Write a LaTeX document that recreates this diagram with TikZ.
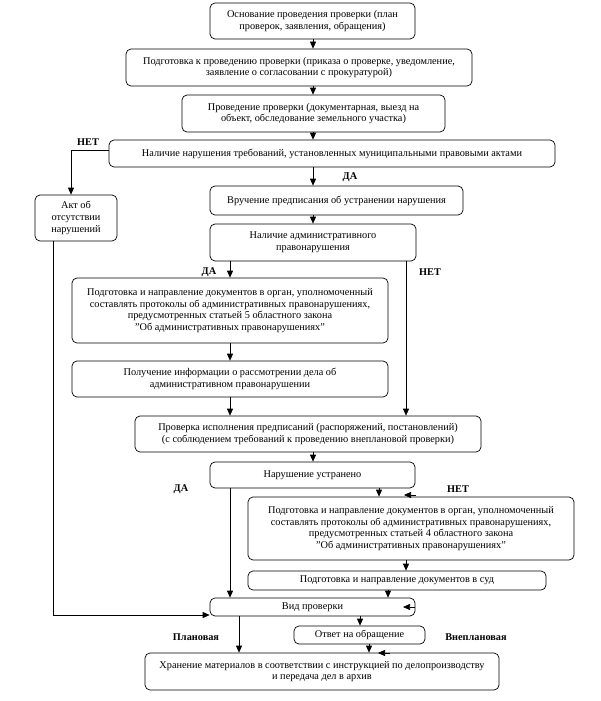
\documentclass[tikz,border=0pt]{standalone}
\usepackage{fontspec}
\setmainfont{Liberation Serif}
\usetikzlibrary{arrows.meta,calc}
\newcommand{\qq}{\char34 }
\begin{document}
\begin{tikzpicture}[x=1pt,y=-1pt,
  box/.style={draw,rounded corners=5pt,align=center,inner sep=0pt,line width=0.7pt,
    font=\fontsize{10.3}{11.7}\selectfont},
  arr/.style={line width=0.7pt,-{Triangle[length=7pt,width=6pt]}},
  lbl/.style={font=\fontsize{10.3}{12}\selectfont\bfseries,inner sep=0pt}]
\useasboundingbox (0,0) rectangle (600,701);
\node[box,minimum width=205pt,minimum height=36pt] (b1) at (312.5,21) {Основание проведения проверки (план\\проверок, заявления, обращения)};
\node[box,minimum width=346pt,minimum height=37pt] (b2) at (299,67.5) {Подготовка к проведению проверки (приказа о проверке, уведомление,\\заявление о согласовании с прокуратурой)};
\node[box,minimum width=263pt,minimum height=37pt] (b3) at (313.5,113.5) {Проведение проверки (документарная, выезд на\\объект, обследование земельного участка)};
\node[box,minimum width=446pt,minimum height=27pt] (b4) at (332,153.5) {Наличие нарушения требований, установленных муниципальными правовыми актами};
\node[box,minimum width=82pt,minimum height=46pt] (akt) at (76,218) {Акт об\\отсутствии\\нарушений};
\node[box,minimum width=253pt,minimum height=29pt] (b5) at (336.5,200.5) {Вручение предписания об устранении нарушения};
\node[box,minimum width=206pt,minimum height=37pt] (b6) at (313,242.5) {Наличие административного\\правонарушения};
\node[box,minimum width=316pt,minimum height=65pt] (b7) at (230,310.5) {Подготовка и направление документов в орган, уполномоченный\\составлять протоколы об административных правонарушениях,\\предусмотренных статьей 5 областного закона\\\qq Об административных правонарушениях\qq};
\node[box,minimum width=316pt,minimum height=36pt] (b8) at (230,379) {Получение информации о рассмотрении дела об\\административном правонарушении};
\node[box,minimum width=346pt,minimum height=36pt] (b9) at (308,434) {Проверка исполнения предписаний (распоряжений, постановлений)\\(с соблюдением требований к проведению внеплановой проверки)};
\node[box,minimum width=205pt,minimum height=26pt] (b10) at (312.5,475) {Нарушение устранено};
\node[box,minimum width=326pt,minimum height=63pt] (b11) at (411,528.5) {Подготовка и направление документов в орган, уполномоченный\\составлять протоколы об административных правонарушениях,\\предусмотренных статьей 4 областного закона\\\qq Об административных правонарушениях\qq};
\node[box,minimum width=298pt,minimum height=19pt] (b12) at (397,580.5) {Подготовка и направление документов в суд};
\node[box,minimum width=205pt,minimum height=18pt] (b13) at (312.5,607) {Вид проверки};
\node[box,minimum width=131pt,minimum height=18pt] (b14) at (359.5,635) {Ответ на обращение};
\node[box,minimum width=354pt,minimum height=37pt] (b15) at (322,671.5) {Хранение материалов в соответствии с инструкцией по делопроизводству\\и передача дел в архив};
% labels
\node[lbl] (l1) at (88,142) {НЕТ};
\node[lbl] (l2) at (350,177) {ДА};
\node[lbl] (l3) at (209,272) {ДА};
\node[lbl] (l4) at (430,272) {НЕТ};
\node[lbl] (l5) at (181,489) {ДА};
\node[lbl] (l6) at (458,489) {НЕТ};
\node[lbl] (l7) at (196,637) {Плановая};
\node[lbl] (l8) at (476,637) {Внеплановая};
% connectors
\draw[arr] (b1.south -| 313,0) -- (b2.north -| 313,0);
\draw[arr] (b2.south -| 313,0) -- (b3.north -| 313,0);
\draw[arr] (b3.south -| 313,0) -- (b4.north -| 313,0);
\draw[arr] (b4.south -| 313,0) -- (b5.north -| 313,0);
\draw[arr] ([yshift=3pt]b4.west) -| ([xshift=-5pt]akt.north);
\draw[arr] (b5.south -| 313,0) -- (b6.north -| 313,0);
\draw[arr] (b6.south -| b7.north) -- (b7.north);
\draw[arr] (b6.south -| 406,0) -- (b9.north -| 406,0);
\draw[arr] (b7.south) -- (b8.north);
\draw[arr] (b8.south) -- (b9.north -| b8.south);
\draw[arr] (b9.south -| 313,0) -- (b10.north -| 313,0);
\draw[arr] (b10.south -| 230,0) -- (b13.north -| 230,0);
\draw[arr] (b10.south -| 379,0) -- (b11.north -| 379,0);
\coordinate (t1a) at (416,495); \coordinate (t1b) at (404,495);
\draw[arr] (t1a) -- (t1b);
\draw[arr] (b11.south -| 406,0) -- (b12.north -| 406,0);
\draw[arr] (b12.south -| 388,0) -- (b13.north -| 388,0);
\draw[arr] (akt.south -| 53,0) |- ([yshift=-8pt]b13.west);
\coordinate (t2a) at (415,607); \coordinate (t2b) at (403,607);
\draw[arr] (t2a) -- (t2b);
\draw[arr] (b13.south -| 360,0) -- (b14.north -| 360,0);
\draw[arr] (b13.south -| 239,0) -- (b15.north -| 239,0);
\draw[arr] (b14.south -| 369,0) -- (b15.north -| 369,0);
\coordinate (t3a) at (390,653); \coordinate (t3b) at (378,653);
\draw[arr] (t3a) -- (t3b);
\end{tikzpicture}
\end{document}
